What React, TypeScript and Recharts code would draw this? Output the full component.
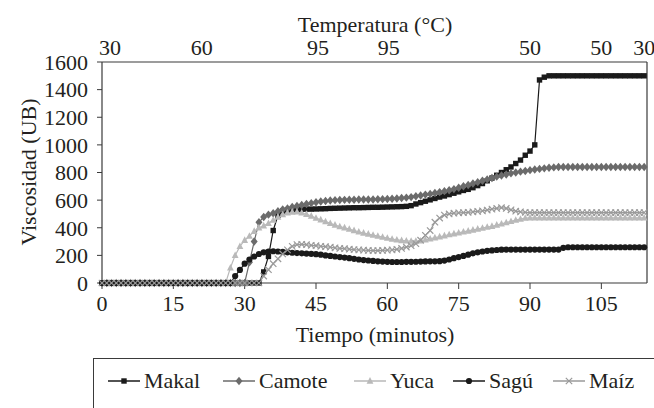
import React from "react";
import { LineChart, Line, XAxis, YAxis, ReferenceLine } from "recharts";

// viscosity (UB) read every minute, 0..114 min
const makal = [
  0, 0, 0, 0, 0, 0, 0, 0, 0, 0,
  0, 0, 0, 0, 0, 0, 0, 0, 0, 0,
  0, 0, 0, 0, 0, 0, 0, 0, 0, 0,
  0, 0, 0, 0, 80, 192, 380, 490, 522, 530,
  532, 533, 534, 535, 535, 536, 537, 538, 540, 541,
  542, 543, 544, 545, 545, 546, 547, 548, 548, 549,
  550, 551, 552, 553, 555, 560, 572, 582, 592, 602,
  612, 622, 630, 640, 650, 660, 670, 678, 690, 705,
  720, 740, 760, 780, 800, 820, 840, 865, 890, 925,
  955, 1000, 1470, 1490, 1500, 1500, 1500, 1500, 1500, 1500,
  1500, 1500, 1500, 1500, 1500, 1500, 1500, 1500, 1500, 1500,
  1500, 1500, 1500, 1500, 1500,
];
const camote = [
  0, 0, 0, 0, 0, 0, 0, 0, 0, 0,
  0, 0, 0, 0, 0, 0, 0, 0, 0, 0,
  0, 0, 0, 0, 0, 0, 0, 0, 0, 0,
  0, 150, 300, 440, 478, 495, 505, 520, 532, 540,
  550, 558, 565, 572, 578, 585, 590, 594, 597, 600,
  601, 602, 603, 603, 604, 604, 605, 605, 606, 607,
  608, 610, 612, 615, 618, 622, 628, 633, 640, 645,
  652, 658, 665, 672, 680, 690, 700, 710, 720, 730,
  740, 750, 760, 770, 778, 786, 794, 800, 806, 811,
  817, 822, 826, 830, 834, 837, 840, 840, 840, 840,
  840, 840, 840, 840, 840, 840, 840, 840, 840, 840,
  840, 840, 840, 840, 840,
];
const yuca = [
  0, 0, 0, 0, 0, 0, 0, 0, 0, 0,
  0, 0, 0, 0, 0, 0, 0, 0, 0, 0,
  0, 0, 0, 0, 0, 0, 0, 110, 200, 265,
  310, 340, 375, 400, 415, 432, 455, 478, 495, 508,
  514, 515, 508, 498, 485, 470, 458, 445, 432, 420,
  408, 400, 390, 380, 370, 362, 355, 347, 340, 332,
  325, 318, 312, 308, 305, 303, 303, 305, 312, 320,
  328, 335, 342, 350, 357, 363, 370, 377, 384, 391,
  398, 405, 411, 420, 428, 437, 446, 455, 463, 470,
  472, 472, 472, 472, 472, 472, 472, 472, 472, 472,
  472, 472, 472, 472, 472, 472, 472, 472, 472, 472,
  472, 472, 472, 472, 472,
];
const sagu = [
  0, 0, 0, 0, 0, 0, 0, 0, 0, 0,
  0, 0, 0, 0, 0, 0, 0, 0, 0, 0,
  0, 0, 0, 0, 0, 0, 0, 0, 50, 95,
  140, 170, 192, 210, 222, 228, 230, 228, 225, 222,
  219, 217, 215, 213, 211, 209, 205, 200, 196, 192,
  188, 184, 180, 175, 170, 166, 163, 160, 157, 155,
  153, 152, 152, 152, 153, 153, 154, 155, 156, 157,
  157, 158, 162, 170, 180, 188, 196, 205, 215, 222,
  228, 233, 236, 239, 241, 242, 242, 242, 242, 242,
  242, 242, 242, 242, 242, 242, 242, 255, 259, 259,
  259, 259, 259, 259, 259, 259, 259, 259, 259, 259,
  259, 259, 259, 259, 259,
];
const maiz = [
  0, 0, 0, 0, 0, 0, 0, 0, 0, 0,
  0, 0, 0, 0, 0, 0, 0, 0, 0, 0,
  0, 0, 0, 0, 0, 0, 0, 0, 0, 0,
  0, 0, 0, 0, 50, 96, 140, 175, 210, 240,
  265, 278, 280, 277, 273, 270, 266, 263, 259, 255,
  250, 248, 245, 242, 240, 238, 236, 235, 235, 236,
  238, 240, 244, 250, 260, 270, 285, 310, 345, 380,
  440, 470, 492, 500, 505, 508, 510, 512, 515, 518,
  522, 528, 535, 540, 545, 540, 530, 520, 515, 512,
  510, 510, 510, 510, 510, 510, 510, 510, 510, 510,
  510, 510, 510, 510, 510, 510, 510, 510, 510, 510,
  510, 510, 510, 510, 510,
];

const timeTicks = [0, 15, 30, 45, 60, 75, 90, 105];
const viscTicks = [0, 200, 400, 600, 800, 1000, 1200, 1400, 1600];
// temperature program labels on the top axis (minute, °C)
const tempAt = [1.7, 21, 45.4, 60.3, 90, 105, 114];
const tempLabels = ["30", "60", "95", "95", "50", "50", "30"];

const X_MAX = 114.6;
const FONT = '"Liberation Serif", "Times New Roman", serif';
const INK = "#231f20";
const AXIS = "#3a3a3a";

type Shape = "square" | "diamond" | "triangle" | "circle" | "cross";

interface SeriesDef {
  key: string;
  name: string;
  color: string;
  shape: Shape;
}

const SERIES: SeriesDef[] = [
  { key: "makal", name: "Makal", color: "#1a1a1a", shape: "square" },
  { key: "camote", name: "Camote", color: "#6b6b6b", shape: "diamond" },
  { key: "yuca", name: "Yuca", color: "#b9b9b9", shape: "triangle" },
  { key: "sagu", name: "Sagú", color: "#1a1a1a", shape: "circle" },
  { key: "maiz", name: "Maíz", color: "#9a9a9a", shape: "cross" },
];

const data = makal.map((v, i) => ({
  t: i,
  makal: v,
  camote: camote[i],
  yuca: yuca[i],
  sagu: sagu[i],
  maiz: maiz[i],
}));

function marker(shape: Shape, color: string, cx: number, cy: number, key?: string | number) {
  switch (shape) {
    case "square":
      return <rect key={key} x={cx - 2.7} y={cy - 2.7} width={5.4} height={5.4} fill={color} />;
    case "diamond":
      return (
        <polygon
          key={key}
          points={`${cx},${cy - 4.2} ${cx + 3.5},${cy} ${cx},${cy + 4.2} ${cx - 3.5},${cy}`}
          fill={color}
        />
      );
    case "triangle":
      return (
        <polygon
          key={key}
          points={`${cx},${cy - 3.9} ${cx + 3.4},${cy + 2.7} ${cx - 3.4},${cy + 2.7}`}
          fill={color}
        />
      );
    case "circle":
      return <circle key={key} cx={cx} cy={cy} r={3.1} fill={color} />;
    default:
      return (
        <path
          key={key}
          d={`M${cx - 3.2},${cy - 3.2}L${cx + 3.2},${cy + 3.2}M${cx - 3.2},${cy + 3.2}L${cx + 3.2},${cy - 3.2}`}
          stroke={color}
          strokeWidth={1.2}
          fill="none"
        />
      );
  }
}

const makeDot = (s: SeriesDef) => (props: any) => {
  const { cx, cy, index } = props;
  if (cx == null || cy == null) return <g key={`${s.key}-${index}`} />;
  return marker(s.shape, s.color, cx, cy, `${s.key}-${index}`);
};

const tickStyle = { fontSize: 22, fontFamily: FONT, fill: INK };

function LegendBox() {
  const offsets = [14, 129, 260, 359, 459];
  return (
    <div
      style={{
        position: "absolute",
        left: 93,
        top: 358,
        width: 561,
        height: 60,
        borderTop: `1.5px solid ${AXIS}`,
        borderLeft: `1.5px solid ${AXIS}`,
        fontFamily: FONT,
        fontSize: 22,
        color: INK,
      }}
    >
      {SERIES.map((s, i) => (
        <div
          key={s.key}
          style={{
            position: "absolute",
            left: offsets[i],
            top: 9,
            height: 26,
            display: "flex",
            alignItems: "center",
            whiteSpace: "nowrap",
          }}
        >
          <svg width={32} height={14} style={{ marginRight: 4 }}>
            <line x1={0} y1={7} x2={32} y2={7} stroke={s.color} strokeWidth={1.5} />
            {marker(s.shape, s.color, 16, 7)}
          </svg>
          <span>{s.name}</span>
        </div>
      ))}
    </div>
  );
}

export default function App() {
  return (
    <div style={{ position: "absolute", left: 0, top: 0, width: 654, height: 408, background: "#fff" }}>
      <LineChart
        width={654}
        height={408}
        data={data}
        margin={{ top: 0, right: 7, bottom: 0, left: 0 }}
      >
        <XAxis
          xAxisId="b"
          dataKey="t"
          type="number"
          domain={[0, X_MAX]}
          ticks={timeTicks}
          interval={0}
          height={125}
          tick={tickStyle}
          tickSize={6}
          tickMargin={6}
          stroke={AXIS}
          tickLine={{ stroke: AXIS }}
          axisLine={{ stroke: AXIS, strokeWidth: 1.2 }}
          label={{
            content: () => (
              <text x={375} y={342} textAnchor="middle" fontSize={22} fontFamily={FONT} fill={INK}>
                Tiempo (minutos)
              </text>
            ),
          }}
        />
        <XAxis
          xAxisId="top"
          dataKey="t"
          orientation="top"
          type="number"
          domain={[0, X_MAX]}
          ticks={tempAt}
          interval={0}
          height={62}
          tick={tickStyle}
          tickFormatter={(v: number) => tempLabels[tempAt.indexOf(v)] ?? ""}
          tickSize={0}
          tickMargin={7}
          tickLine={false}
          axisLine={false}
          label={{
            content: () => (
              <text x={375} y={32} textAnchor="middle" fontSize={22} fontFamily={FONT} fill={INK}>
                Temperatura (°C)
              </text>
            ),
          }}
        />
        <YAxis
          type="number"
          domain={[0, 1600]}
          ticks={viscTicks}
          interval={0}
          width={102}
          tick={tickStyle}
          tickSize={5}
          tickMargin={9}
          stroke={AXIS}
          tickLine={{ stroke: AXIS }}
          axisLine={{ stroke: AXIS, strokeWidth: 1.2 }}
          label={{
            content: () => (
              <text
                x={28}
                y={172}
                transform="rotate(-90 28 172)"
                textAnchor="middle"
                dominantBaseline="central"
                fontSize={22}
                fontFamily={FONT}
                fill={INK}
              >
                Viscosidad (UB)
              </text>
            ),
          }}
        />
        <ReferenceLine xAxisId="b" y={1600} stroke={AXIS} strokeWidth={1.2} />
        <ReferenceLine xAxisId="b" x={X_MAX} stroke={AXIS} strokeWidth={1.2} />
        {SERIES.map((s) => (
          <Line
            key={s.key}
            xAxisId="b"
            type="linear"
            dataKey={s.key}
            name={s.name}
            stroke={s.color}
            strokeWidth={1.2}
            dot={makeDot(s)}
            activeDot={false}
            isAnimationActive={false}
          />
        ))}
      </LineChart>
      <LegendBox />
    </div>
  );
}
